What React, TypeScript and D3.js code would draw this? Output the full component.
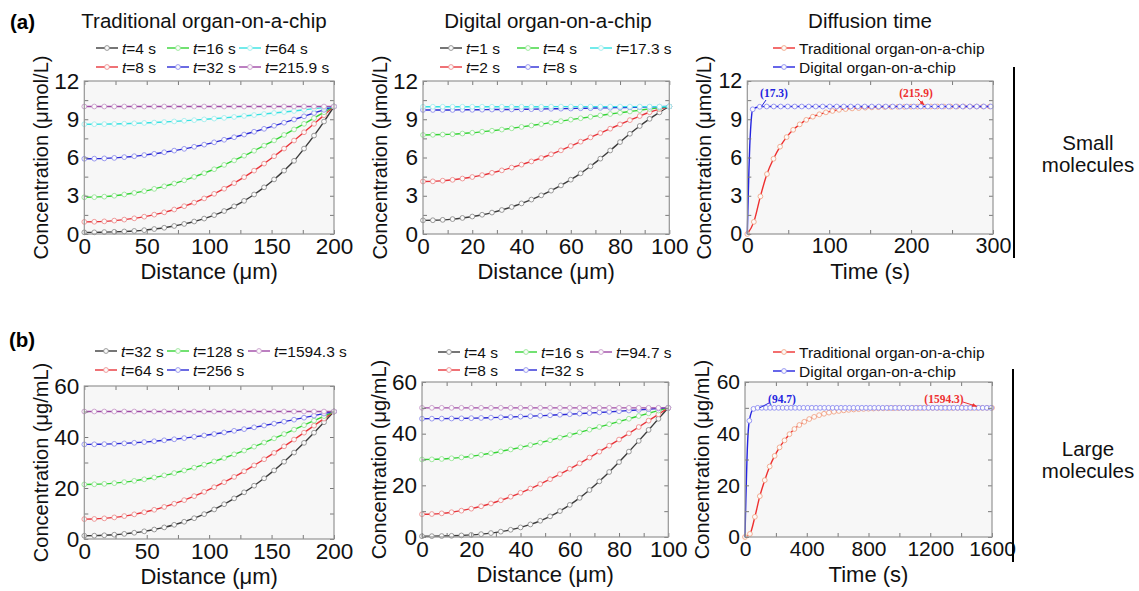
import { useEffect, useRef } from "react";
import * as d3 from "d3";

const FONT = "'Liberation Sans', Arial, Helvetica, sans-serif";
const SERIF = "'Liberation Serif', 'Times New Roman', serif";

// distance grids (um)
const tradX = [0, 8, 16, 24, 32, 40, 48, 56, 64, 72, 80, 88, 96, 104, 112, 120, 128, 136, 144, 152, 160, 168, 176, 184, 192, 200];
const digX = [0, 4, 8, 12, 16, 20, 24, 28, 32, 36, 40, 44, 48, 52, 56, 60, 64, 68, 72, 76, 80, 84, 88, 92, 96, 100];

// tick labels
const tradXTicks = [0, 50, 100, 150, 200];
const digXTicks = [0, 20, 40, 60, 80, 100];
const smallYTicks = [0, 3, 6, 9, 12];
const largeYTicks = [0, 20, 40, 60];
const smallTimeTicks = [0, 100, 200, 300];
const largeTimeTicks = [0, 400, 800, 1200, 1600];

// (a) small molecules - traditional chip (umol/L)
const smallTradTimes = ["4", "8", "16", "32", "64", "215.9"];
const smallTrad4 = [0.13, 0.13, 0.15, 0.17, 0.2, 0.24, 0.3, 0.39, 0.49, 0.63, 0.79, 0.98, 1.21, 1.48, 1.8, 2.17, 2.6, 3.1, 3.66, 4.28, 4.97, 5.74, 6.7, 7.72, 8.82, 10];
const smallTrad8 = [0.95, 0.96, 0.99, 1.05, 1.13, 1.23, 1.36, 1.52, 1.7, 1.92, 2.18, 2.46, 2.79, 3.15, 3.55, 3.99, 4.46, 4.97, 5.52, 6.1, 6.7, 7.33, 7.98, 8.64, 9.32, 10];
const smallTrad16 = [2.88, 2.89, 2.93, 3.0, 3.1, 3.22, 3.36, 3.54, 3.74, 3.96, 4.21, 4.48, 4.77, 5.08, 5.42, 5.77, 6.14, 6.53, 6.93, 7.34, 7.77, 8.2, 8.64, 9.09, 9.55, 10];
const smallTrad32 = [5.9, 5.91, 5.93, 5.97, 6.03, 6.1, 6.19, 6.29, 6.41, 6.54, 6.68, 6.84, 7.01, 7.19, 7.39, 7.59, 7.8, 8.02, 8.25, 8.49, 8.73, 8.98, 9.23, 9.49, 9.74, 10];
const smallTrad64 = [8.61, 8.61, 8.62, 8.63, 8.65, 8.68, 8.71, 8.74, 8.78, 8.83, 8.88, 8.93, 8.99, 9.05, 9.11, 9.18, 9.26, 9.33, 9.41, 9.49, 9.57, 9.65, 9.74, 9.83, 9.91, 10];
const smallTrad216 = [10, 10, 10, 10, 10, 10, 10, 10, 10, 10, 10, 10, 10, 10, 10, 10, 10, 10, 10, 10, 10, 10, 10, 10, 10, 10];

// (a) small molecules - digital chip
const smallDigTimes = ["1", "2", "4", "8", "17.3"];
const smallDig1 = [1.07, 1.08, 1.11, 1.17, 1.26, 1.37, 1.51, 1.68, 1.88, 2.12, 2.4, 2.7, 3.03, 3.4, 3.81, 4.26, 4.76, 5.31, 5.91, 6.55, 7.21, 7.86, 8.47, 9.03, 9.54, 10];
const smallDig2 = [4.12, 4.13, 4.18, 4.25, 4.35, 4.47, 4.62, 4.8, 4.99, 5.21, 5.44, 5.69, 5.96, 6.25, 6.56, 6.9, 7.24, 7.58, 7.92, 8.26, 8.6, 8.93, 9.25, 9.55, 9.8, 10];
const smallDig4 = [7.77, 7.78, 7.8, 7.83, 7.88, 7.94, 8.02, 8.1, 8.19, 8.29, 8.4, 8.51, 8.62, 8.74, 8.85, 8.97, 9.08, 9.19, 9.3, 9.41, 9.51, 9.61, 9.71, 9.81, 9.9, 10];
const smallDig8 = [9.73, 9.73, 9.73, 9.73, 9.74, 9.74, 9.75, 9.76, 9.76, 9.77, 9.78, 9.79, 9.8, 9.82, 9.83, 9.84, 9.86, 9.87, 9.89, 9.9, 9.92, 9.93, 9.95, 9.97, 9.98, 10];
const smallDig17 = [9.98, 9.98, 9.98, 9.98, 9.98, 9.98, 9.98, 9.98, 9.98, 9.98, 9.98, 9.98, 9.98, 9.99, 9.99, 9.99, 9.99, 9.99, 9.99, 9.99, 9.99, 9.99, 9.99, 9.99, 9.99, 10];

// (a) diffusion time, concentration at far end vs time (s)
const tradSmallT = [0, 8, 16, 24, 32, 40, 48, 56, 64, 72, 80, 88, 96, 104, 112, 120, 128, 136, 144, 152, 160, 168, 176, 184, 192, 200, 208, 216, 224, 232, 240, 248, 256, 264, 272, 280, 288, 296];
const tradSmallC = [0, 0.95, 2.95, 4.7, 5.9, 6.85, 7.6, 8.17, 8.6, 8.95, 9.2, 9.39, 9.54, 9.65, 9.74, 9.8, 9.85, 9.88, 9.91, 9.93, 9.95, 9.96, 9.97, 9.98, 9.98, 9.99, 9.99, 9.99, 10, 10, 10, 10, 10, 10, 10, 10, 10, 10];
const digSmallLeadT = [0, 0.5, 1, 1.5, 2, 2.5, 3, 4, 5];
const digSmallLeadC = [0, 1.3, 2.6, 3.8, 5.0, 6.0, 6.9, 8.2, 9.1];
const digSmallT = [6.6, 15.2, 23.7, 32.3, 40.8, 49.4, 57.9, 66.5, 75, 83.6, 92.1, 100.7, 109.2, 117.8, 126.3, 134.9, 143.4, 152, 160.5, 169.1, 177.6, 186.2, 194.7, 203.3, 211.8, 220.4, 228.9, 237.5, 246, 254.6, 263.1, 271.7, 280.2, 288.8, 297.3];
const digSmallC = [9.78, 9.98, 10, 10, 10, 10, 10, 10, 10, 10, 10, 10, 10, 10, 10, 10, 10, 10, 10, 10, 10, 10, 10, 10, 10, 10, 10, 10, 10, 10, 10, 10, 10, 10, 10];

// (b) large molecules - traditional chip (ug/mL)
const largeTradTimes = ["32", "64", "128", "256", "1594.3"];
const largeTrad32 = [1.27, 1.31, 1.45, 1.68, 2.01, 2.45, 3.01, 3.71, 4.55, 5.57, 6.76, 8.15, 9.75, 11.58, 13.64, 15.93, 18.3, 20.9, 23.8, 26.9, 30.3, 33.9, 37.7, 41.7, 45.8, 50];
const largeTrad64 = [7.8, 7.87, 8.1, 8.47, 8.99, 9.67, 10.49, 11.46, 12.57, 13.84, 15.24, 16.8, 18.49, 20.31, 22.27, 24.35, 26.55, 28.86, 31.27, 33.77, 36.34, 38.99, 41.69, 44.44, 47.21, 50];
const largeTrad128 = [21.4, 21.46, 21.63, 21.91, 22.3, 22.8, 23.41, 24.12, 24.94, 25.85, 26.86, 27.96, 29.15, 30.42, 31.77, 33.19, 34.68, 36.22, 37.82, 39.47, 41.16, 42.89, 44.64, 46.42, 48.2, 50];
const largeTrad256 = [37.1, 37.13, 37.2, 37.33, 37.51, 37.73, 38.01, 38.33, 38.7, 39.11, 39.56, 40.06, 40.6, 41.17, 41.78, 42.42, 43.09, 43.79, 44.51, 45.25, 46.01, 46.79, 47.58, 48.38, 49.19, 50];
const largeTrad1594 = [50, 50, 50, 50, 50, 50, 50, 50, 50, 50, 50, 50, 50, 50, 50, 50, 50, 50, 50, 50, 50, 50, 50, 50, 50, 50];

// (b) large molecules - digital chip
const largeDigTimes = ["4", "8", "16", "32", "94.7"];
const largeDig4 = [0.3, 0.32, 0.37, 0.46, 0.6, 0.81, 1.11, 1.52, 2.07, 2.79, 3.71, 4.86, 6.28, 8.0, 10.04, 12.42, 15.14, 18.19, 21.54, 25.16, 29.0, 33.05, 37.2, 41.45, 45.75, 50];
const largeDig8 = [8.8, 8.89, 9.15, 9.59, 10.19, 10.96, 11.89, 12.98, 14.22, 15.6, 17.12, 18.76, 20.51, 22.38, 24.34, 26.4, 28.54, 30.74, 33.01, 35.34, 37.72, 40.13, 42.57, 45.03, 47.51, 50];
const largeDig16 = [30.0, 30.05, 30.21, 30.47, 30.82, 31.27, 31.81, 32.43, 33.12, 33.89, 34.71, 35.59, 36.51, 37.47, 38.46, 39.48, 40.51, 41.55, 42.6, 43.66, 44.71, 45.77, 46.83, 47.89, 48.94, 50];
const largeDig32 = [45.8, 45.81, 45.83, 45.87, 45.93, 46.01, 46.09, 46.2, 46.32, 46.45, 46.6, 46.76, 46.94, 47.12, 47.32, 47.53, 47.75, 47.98, 48.21, 48.45, 48.7, 48.96, 49.21, 49.47, 49.74, 50];
const largeDig95 = [50, 50, 50, 50, 50, 50, 50, 50, 50, 50, 50, 50, 50, 50, 50, 50, 50, 50, 50, 50, 50, 50, 50, 50, 50, 50];

// (b) diffusion time
const tradLargeT = [0, 32, 64, 96, 128, 160, 192, 224, 256, 288, 320, 352, 384, 416, 448, 480, 512, 544, 576, 608, 640, 672, 704, 736, 768, 800, 832, 864, 896, 928, 960, 992, 1024, 1056, 1088, 1120, 1152, 1184, 1216, 1248, 1280, 1312, 1344, 1376, 1408, 1440, 1472, 1504, 1536, 1568, 1600];
const tradLargeC = [0, 1.2, 7.8, 15.8, 22, 27.3, 31.4, 34.7, 37.4, 39.8, 41.8, 43.35, 44.6, 45.66, 46.5, 47.16, 47.7, 48.14, 48.5, 48.78, 49.02, 49.2, 49.36, 49.48, 49.58, 49.66, 49.73, 49.78, 49.82, 49.86, 49.88, 49.9, 49.92, 49.94, 49.95, 49.96, 49.97, 49.97, 49.98, 49.98, 49.98, 49.99, 49.99, 49.99, 49.99, 49.99, 50, 50, 50, 50, 50];
const digLargeLeadT = [0, 3, 6, 9, 12, 15, 18, 21, 24];
const digLargeLeadC = [0, 8, 15.5, 22, 28.5, 34, 38, 41, 43.2];
const digLargeT = [28, 55, 82, 109, 136, 163, 190, 217, 244, 271, 298, 325, 352, 379, 406, 433, 460, 487, 514, 541, 568, 595, 622, 649, 676, 703, 730, 757, 784, 811, 838, 865, 892, 919, 946, 973, 1000, 1027, 1054, 1081, 1108, 1135, 1162, 1189, 1216, 1243, 1270, 1297, 1324, 1351, 1378, 1405, 1432, 1459, 1486, 1513, 1540, 1567, 1594];
const digLargeC = [45, 49.6, 50, 50, 50, 50, 50, 50, 50, 50, 50, 50, 50, 50, 50, 50, 50, 50, 50, 50, 50, 50, 50, 50, 50, 50, 50, 50, 50, 50, 50, 50, 50, 50, 50, 50, 50, 50, 50, 50, 50, 50, 50, 50, 50, 50, 50, 50, 50, 50, 50, 50, 50, 50, 50, 50, 50, 50, 50];

// colours: [line, marker outline]
const GRAY = ["#3c3c3c", "#8e8e8e"];
const RED = ["#e8353b", "#ee9090"];
const GREEN = ["#35d435", "#96e696"];
const CYAN = ["#36e2e2", "#a2eeee"];
const BLUE = ["#2b2bd6", "#9090ee"];
const PURPLE = ["#a04aa6", "#c89ccb"];
const T_RED = ["#ee3030", "#f2a688"];
const T_BLUE = ["#2424e0", "#8c8cf2"];

const App = () => {
  const ref = useRef(null);

  useEffect(() => {
    draw();
  });

  const draw = () => {
    const svg = d3.select(ref.current);
    svg.selectAll("*").remove();
    svg.append("rect").attr("width", 1139).attr("height", 591).attr("fill", "#fff");

    const defs = svg.append("defs");
    [["arrRed", T_RED[0]], ["arrBlue", T_BLUE[0]]].forEach(([id, col]) => {
      defs
        .append("marker")
        .attr("id", id)
        .attr("viewBox", "0 0 10 10")
        .attr("refX", 9)
        .attr("refY", 5)
        .attr("markerWidth", 5)
        .attr("markerHeight", 5)
        .attr("orient", "auto")
        .append("path")
        .attr("d", "M0,1 L10,5 L0,9 Z")
        .attr("fill", col);
    });

    const mkSeries = (xs, groups, colors) =>
      groups.map((ys, i) => ({ xs, ys, color: colors[i][0], mk: colors[i][1] }));

    const distColors6 = [GRAY, RED, GREEN, BLUE, CYAN, PURPLE];
    const digColors5 = [GRAY, RED, GREEN, BLUE, CYAN];
    const largeColors5 = [GRAY, RED, GREEN, BLUE, PURPLE];

    const panels = [
      {
        left: 84.3, top: 81, width: 249.7, height: 153, tickFont: 22.5,
        xDomain: [0, 200], yDomain: [0, 12], xTicks: tradXTicks, yTicks: smallYTicks, xMinor: 25, yMinor: 1.5,
        title: "Traditional organ-on-a-chip", titleX: 204,
        xLabel: "Distance (\u03bcm)", yLabel: "Concentration (\u03bcmol/L)",
        series: mkSeries(tradX, [smallTrad4, smallTrad8, smallTrad16, smallTrad32, smallTrad64, smallTrad216], distColors6),
        legend: { cols: [96, 167, 239], rows: [48, 67], labels: smallTradTimes, italic: true },
      },
      {
        left: 423, top: 81, width: 246.3, height: 153, tickFont: 22.5,
        xDomain: [0, 100], yDomain: [0, 12], xTicks: digXTicks, yTicks: smallYTicks, xMinor: 10, yMinor: 1.5,
        title: "Digital organ-on-a-chip", titleX: 548,
        xLabel: "Distance (\u03bcm)", yLabel: "Concentration (\u03bcmol/L)",
        series: mkSeries(digX, [smallDig1, smallDig2, smallDig4, smallDig8, smallDig17], digColors5),
        legend: { cols: [440, 517, 590], rows: [48, 67], labels: smallDigTimes, italic: true },
      },
      {
        left: 747.3, top: 81, width: 245.7, height: 153, tickFont: 21.5,
        xDomain: [0, 300], yDomain: [0, 12], xTicks: smallTimeTicks, yTicks: smallYTicks, xMinor: 50, yMinor: 1.5,
        title: "Diffusion time", titleX: 870,
        xLabel: "Time (s)", yLabel: "Concentration (\u03bcmol/L)",
        series: [
          { xs: tradSmallT, ys: tradSmallC, color: T_RED[0], mk: T_RED[1] },
          { xs: digSmallT, ys: digSmallC, leadXs: digSmallLeadT, leadYs: digSmallLeadC, color: T_BLUE[0], mk: T_BLUE[1] },
        ],
        legend: { cols: [773], rows: [48, 67], labels: ["Traditional organ-on-a-chip", "Digital organ-on-a-chip"], italic: false, colors: [T_RED, T_BLUE] },
        notes: [
          { text: "(17.3)", color: T_BLUE[0], lx: 774, ly: 97, from: [766, 100], at: [17.3, 10], arrow: null },
          { text: "(215.9)", color: T_RED[0], lx: 916, ly: 97, from: [918, 99], at: [215.9, 10], arrow: "arrRed" },
        ],
      },
      {
        left: 84.3, top: 386, width: 249.7, height: 153, tickFont: 22.5,
        xDomain: [0, 200], yDomain: [0, 60], xTicks: tradXTicks, yTicks: largeYTicks, xMinor: 25, yMinor: 10,
        xLabel: "Distance (\u03bcm)", yLabel: "Concentration (\u03bcg/mL)",
        series: mkSeries(tradX, [largeTrad32, largeTrad64, largeTrad128, largeTrad256, largeTrad1594], largeColors5),
        legend: { cols: [95, 167, 248], rows: [351, 370], labels: largeTradTimes, italic: true },
      },
      {
        left: 422, top: 382, width: 246.3, height: 155, tickFont: 22.5,
        xDomain: [0, 100], yDomain: [0, 60], xTicks: digXTicks, yTicks: largeYTicks, xMinor: 10, yMinor: 10,
        xLabel: "Distance (\u03bcm)", yLabel: "Concentration (\u03bcg/mL)",
        series: mkSeries(digX, [largeDig4, largeDig8, largeDig16, largeDig32, largeDig95], largeColors5),
        legend: { cols: [438, 515, 590], rows: [352, 370], labels: largeDigTimes, italic: true },
      },
      {
        left: 745, top: 382, width: 247, height: 155, tickFont: 21,
        xDomain: [0, 1600], yDomain: [0, 60], xTicks: largeTimeTicks, yTicks: largeYTicks, xMinor: 200, yMinor: 10,
        xLabel: "Time (s)", yLabel: "Concentration (\u03bcg/mL)",
        series: [
          { xs: tradLargeT, ys: tradLargeC, color: T_RED[0], mk: T_RED[1] },
          { xs: digLargeT, ys: digLargeC, leadXs: digLargeLeadT, leadYs: digLargeLeadC, color: T_BLUE[0], mk: T_BLUE[1] },
        ],
        legend: { cols: [773], rows: [352, 371], labels: ["Traditional organ-on-a-chip", "Digital organ-on-a-chip"], italic: false, colors: [T_RED, T_BLUE] },
        notes: [
          { text: "(94.7)", color: T_BLUE[0], lx: 782, ly: 403, from: [769, 403], at: [94.7, 50], arrow: null },
          { text: "(1594.3)", color: T_RED[0], lx: 944, ly: 403, from: [963, 402], at: [1500, 50], arrow: "arrRed" },
        ],
      },
    ];

    panels.forEach((p, pi) => drawPanel(svg, p, pi));

    // panel letters
    svg.append("text").attr("x", 10).attr("y", 29).text("(a)")
      .attr("font-family", FONT).attr("font-size", 20.5).attr("font-weight", "bold");
    svg.append("text").attr("x", 9).attr("y", 347).text("(b)")
      .attr("font-family", FONT).attr("font-size", 20.5).attr("font-weight", "bold");

    // side labels
    const side = [
      { x: 1014, y1: 67, y2: 258, lines: ["Small", "molecules"], ys: [150, 172] },
      { x: 1013, y1: 369, y2: 562, lines: ["Large", "molecules"], ys: [456, 478] },
    ];
    side.forEach((s) => {
      svg.append("line").attr("x1", s.x).attr("x2", s.x).attr("y1", s.y1).attr("y2", s.y2)
        .attr("stroke", "#000").attr("stroke-width", 2);
      s.lines.forEach((t, i) => {
        svg.append("text").attr("x", 1088).attr("y", s.ys[i]).attr("text-anchor", "middle")
          .attr("font-family", FONT).attr("font-size", 20.5).attr("fill", "#111").text(t);
      });
    });
  };

  const drawPanel = (svg, p, pi) => {
    const g = svg.append("g").attr("class", "panel-" + pi);
    const x = d3.scaleLinear().domain(p.xDomain).range([p.left, p.left + p.width]);
    const y = d3.scaleLinear().domain(p.yDomain).range([p.top + p.height, p.top]);
    const bottom = p.top + p.height;
    const right = p.left + p.width;

    g.append("rect").attr("x", p.left).attr("y", p.top).attr("width", p.width).attr("height", p.height)
      .attr("fill", "#f7f7f7");

    const line = d3.line().x((d) => x(d[0])).y((d) => y(d[1])).curve(d3.curveMonotoneX);

    p.series.forEach((s) => {
      const pts = s.xs.map((v, i) => [v, s.ys[i]]);
      const lead = s.leadXs ? s.leadXs.map((v, i) => [v, s.leadYs[i]]) : [];
      g.append("path").datum([...lead, ...pts]).attr("d", line)
        .attr("fill", "none").attr("stroke", s.color).attr("stroke-width", 1.4);
      g.append("g").selectAll("circle").data(pts).join("circle")
        .attr("cx", (d) => x(d[0])).attr("cy", (d) => y(d[1])).attr("r", 2.4)
        .attr("fill", "#fbfbfb").attr("stroke", s.mk).attr("stroke-width", 0.9);
    });

    // minor / major inward ticks on all four sides
    const minorX = d3.range(p.xDomain[0], p.xDomain[1] + 1e-6, p.xMinor);
    const minorY = d3.range(p.yDomain[0], p.yDomain[1] + 1e-6, p.yMinor);
    const tickCol = "#7a7a7a";
    const styleTicks = (sel) => {
      sel.select(".domain").remove();
      sel.selectAll("line").attr("stroke", tickCol);
    };
    g.append("g").attr("transform", `translate(0,${bottom})`)
      .call(d3.axisBottom(x).tickValues(minorX).tickSize(-4).tickFormat(() => "")).call(styleTicks);
    g.append("g").attr("transform", `translate(0,${p.top})`)
      .call(d3.axisTop(x).tickValues(minorX).tickSize(-4).tickFormat(() => "")).call(styleTicks);
    g.append("g").attr("transform", `translate(${p.left},0)`)
      .call(d3.axisLeft(y).tickValues(minorY).tickSize(-4).tickFormat(() => "")).call(styleTicks);
    g.append("g").attr("transform", `translate(${right},0)`)
      .call(d3.axisRight(y).tickValues(minorY).tickSize(-4).tickFormat(() => "")).call(styleTicks);

    // tick labels
    const styleLabels = (sel) => {
      sel.select(".domain").remove();
      sel.selectAll("line").remove();
      sel.attr("font-family", FONT).attr("font-size", p.tickFont);
      sel.selectAll("text").attr("fill", "#111");
    };
    g.append("g").attr("transform", `translate(0,${bottom})`)
      .call(d3.axisBottom(x).tickValues(p.xTicks).tickSize(0).tickPadding(4).tickFormat(d3.format("d")))
      .call(styleLabels);
    g.append("g").attr("transform", `translate(${p.left},0)`)
      .call(d3.axisLeft(y).tickValues(p.yTicks).tickSize(0).tickPadding(5).tickFormat(d3.format("d")))
      .call(styleLabels);

    // frame
    g.append("rect").attr("x", p.left).attr("y", p.top).attr("width", p.width).attr("height", p.height)
      .attr("fill", "none").attr("stroke", "#959595").attr("stroke-width", 1.2);

    // axis titles
    g.append("text").attr("x", p.left + p.width / 2).attr("y", bottom + 45).attr("text-anchor", "middle")
      .attr("font-family", FONT).attr("font-size", 22).attr("fill", "#111").text(p.xLabel);
    g.append("text")
      .attr("transform", `translate(${p.left - 43},${p.top + p.height / 2}) rotate(-90)`)
      .attr("text-anchor", "middle").attr("dy", "0.35em")
      .attr("font-family", FONT).attr("font-size", 20).attr("fill", "#111").text(p.yLabel);

    if (p.title) {
      g.append("text").attr("x", p.titleX).attr("y", 28).attr("text-anchor", "middle")
        .attr("font-family", FONT).attr("font-size", 20.5).attr("fill", "#111").text(p.title);
    }

    // legend (column-major)
    const L = p.legend;
    L.labels.forEach((lab, i) => {
      const col = Math.floor(i / L.rows.length);
      const row = i % L.rows.length;
      const lx = L.cols[col];
      const ly = L.rows[row];
      const cc = L.colors ? L.colors[i] : [p.series[i].color, p.series[i].mk];
      g.append("line").attr("x1", lx).attr("x2", lx + 22).attr("y1", ly).attr("y2", ly)
        .attr("stroke", cc[0]).attr("stroke-width", 1.4);
      g.append("circle").attr("cx", lx + 11).attr("cy", ly).attr("r", 2.4)
        .attr("fill", "#fbfbfb").attr("stroke", cc[1]).attr("stroke-width", 0.9);
      const t = g.append("text").attr("x", lx + 26).attr("y", ly).attr("dy", "0.36em")
        .attr("font-family", FONT).attr("font-size", 15.5).attr("fill", "#111");
      if (L.italic) {
        t.append("tspan").attr("font-style", "italic").text("t");
        t.append("tspan").text(`=${lab} s`);
      } else {
        t.text(lab);
      }
    });

    // annotations
    (p.notes || []).forEach((n) => {
      const px = x(n.at[0]);
      const py = y(n.at[1]);
      g.append("text").attr("x", n.lx).attr("y", n.ly).attr("text-anchor", "middle")
        .attr("font-family", SERIF).attr("font-weight", "bold").attr("font-size", 11.5)
        .attr("fill", n.color).text(n.text);
      const ln = g.append("line").attr("stroke", n.color).attr("stroke-width", 1);
      if (n.arrow) {
        ln.attr("x1", n.from[0]).attr("y1", n.from[1]).attr("x2", px).attr("y2", py - 1.5)
          .attr("marker-end", `url(#${n.arrow})`);
      } else {
        ln.attr("x1", px).attr("y1", py).attr("x2", n.from[0]).attr("y2", n.from[1]);
      }
    });
  };

  return (
    <svg
      ref={ref}
      width={1139}
      height={591}
      style={{ position: "absolute", left: 0, top: 0, display: "block" }}
    />
  );
};

export default App;
